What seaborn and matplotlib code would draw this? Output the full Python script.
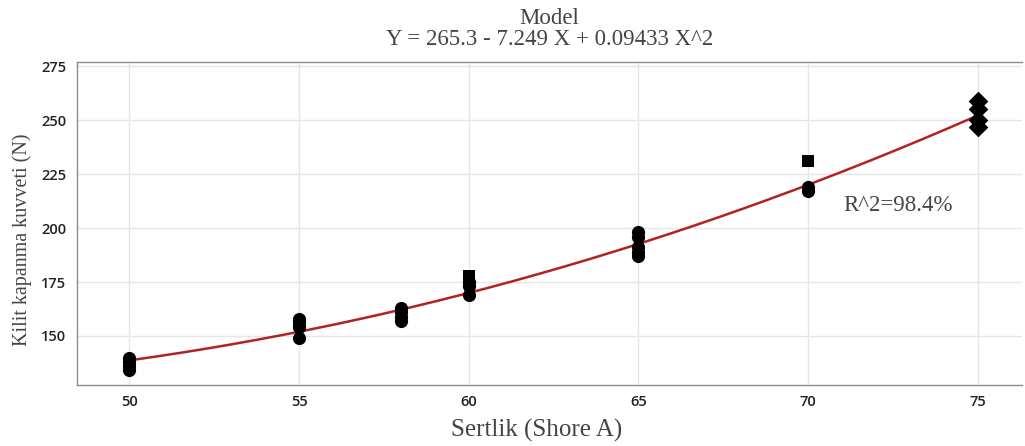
import numpy as np
import pandas as pd
import matplotlib
matplotlib.use("Agg")
import matplotlib.pyplot as plt
import seaborn as sns

# Measured points (hardness, force, marker group)
hardness = [50, 50, 50, 50,
            55, 55, 55, 55, 55,
            58, 58, 58, 58,
            60, 60, 60, 60, 60,
            65, 65, 65, 65, 65,
            70, 70, 70,
            75, 75, 75, 75]
force = [140, 138, 136, 134,
         158, 157, 155, 154, 149,
         163, 161, 159, 157,
         178, 176, 175, 173, 169,
         198, 196, 191, 189, 187,
         231, 219, 217,
         259, 255, 250, 247]
group = (["o"] * 4 + ["o"] * 5 + ["o"] * 4 + ["s", "s", "o", "o", "o"]
         + ["o"] * 5 + ["s", "o", "o"] + ["D"] * 4)

# Fitted model coefficients
b0, b1, b2 = 265.3, -7.249, 0.09433
r2_text = "R^2=98.4%"

df = pd.DataFrame({"Sertlik": hardness, "Kuvvet": force, "grp": group})
xfit = np.linspace(50, 75, 200)
fit = pd.DataFrame({"x": xfit, "y": b0 + b1 * xfit + b2 * xfit ** 2})

sns.set_style("white")
fig = plt.figure(figsize=(10.25, 4.46), dpi=100)
ax = fig.add_axes([0.075, 0.137, 0.922, 0.724])

sns.lineplot(data=fit, x="x", y="y", color="#b22222", linewidth=1.8, ax=ax, zorder=2)
for g in ["o", "s", "D"]:
    sub = df[df["grp"] == g]
    sns.scatterplot(data=sub, x="Sertlik", y="Kuvvet", marker=g, color="black",
                    s={"o": 90, "s": 75, "D": 100}[g], edgecolor="black", linewidth=0,
                    ax=ax, zorder=3)

ax.set_xlim(48.45, 76.3)
ax.set_ylim(127.3, 277)
ax.set_xticks([50, 55, 60, 65, 70, 75])
ax.set_yticks([150, 175, 200, 225, 250, 275])
ax.grid(True, color="#e6e6e6", linewidth=1)
ax.set_axisbelow(True)
for side in ["left", "bottom", "top"]:
    ax.spines[side].set_color("#8c8c8c")
    ax.spines[side].set_linewidth(1)
ax.spines["right"].set_visible(False)
ax.tick_params(axis="both", direction="out", length=4, color="#8c8c8c",
               labelsize=10.5, labelcolor="#222222")
for lab in ax.get_xticklabels() + ax.get_yticklabels():
    lab.set_fontfamily("Open Sans")
    lab.set_fontweight("semibold")

serif = "Liberation Serif"
ax.set_xlabel("Sertlik (Shore A)", fontsize=18, family=serif, color="#444444")
ax.set_ylabel("Kilit kapanma kuvveti (N)", fontsize=14.5, family=serif, color="#444444")
ax.xaxis.set_label_coords(0.486, -0.105)
ax.yaxis.set_label_coords(-0.047, 0.45)
ax.set_title("Model\nY = 265.3 - 7.249 X + 0.09433 X^2", fontsize=16.5, family=serif,
             color="#444444", pad=12, linespacing=1.05)
ax.text(71.05, 210.5, r2_text, fontsize=16.5, family=serif, color="#444444", va="center")

fig.savefig("out.png", dpi=100)
